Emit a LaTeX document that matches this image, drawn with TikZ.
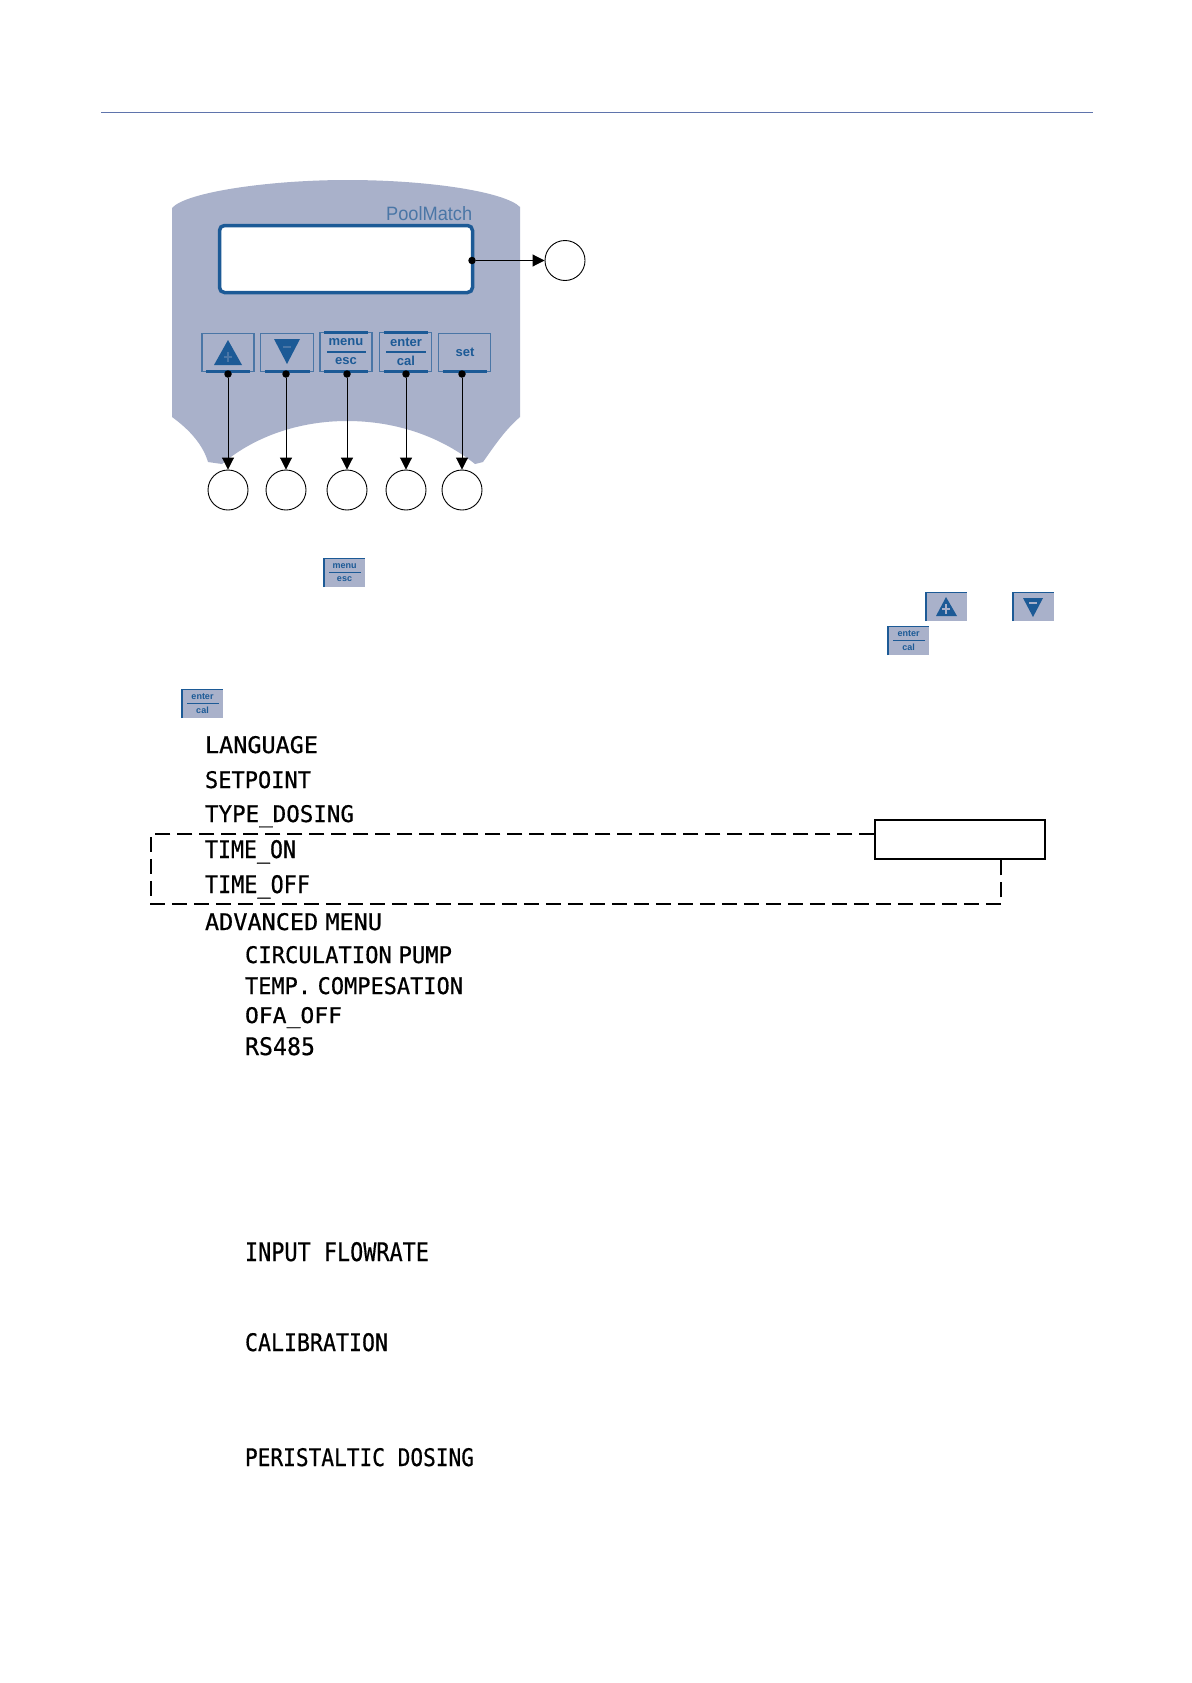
\documentclass[tikz,border=0pt]{standalone}
\usepackage{fontspec}
\setmainfont{Liberation Sans}
\newfontfamily\lcdfont{DejaVu Sans Mono}[FakeBold=0.6]
\usetikzlibrary{arrows.meta}
\definecolor{panelc}{HTML}{A9B1CA}
\definecolor{navyc}{HTML}{1C5A96}
\definecolor{edgec}{HTML}{4A76A6}
\definecolor{rulec}{HTML}{5F74AC}
\newcommand{\lcdtext}[3]{\resizebox{#1pt}{#2pt}{\lcdfont #3}}
\newcommand{\gap}{\kern-0.3em}
\tikzset{
 lcd/.style={inner sep=0pt,outer sep=0pt,anchor=base west,text=black},
 callout/.style={circle,draw=black,line width=0.9pt,minimum size=40pt,inner sep=0pt},
 keybox/.style={draw=edgec,fill=panelc,line width=1.4pt,inner sep=0pt,outer sep=0pt},
 pin/.style={-{Triangle[length=12pt,width=12pt]},line width=0.9pt,black},
 pindot/.style={circle,fill=black,minimum size=7.5pt,inner sep=0pt},
 iconbox/.style={fill=panelc,inner sep=0pt,outer sep=0pt},
 keylabel/.style={text=navyc,font=\bfseries\fontsize{13}{13}\selectfont,inner sep=0pt},
 iconlabel/.style={text=navyc,font=\bfseries\fontsize{9}{9}\selectfont,inner sep=0pt},
 notebox/.style={draw=black,line width=1.5pt,fill=white,minimum width=170pt,minimum height=39pt,inner sep=0pt},
 dashline/.style={draw=black,line width=1.5pt,dash pattern=on 15pt off 7pt},
 lipline/.style={draw=navyc,line width=2.6pt},
}
\begin{document}
\begin{tikzpicture}[x=1pt,y=-1pt]
\useasboundingbox (0,0) rectangle (1191,1683);
\fill[white] (0,0) rectangle (1191,1683);
\draw[rulec,line width=1.2pt] (101,112.5) -- (1093,112.5);
% panel
\fill[panelc] (172,208) .. controls (186,192) and (270,180) .. (347,180)
  .. controls (430,180) and (505,192) .. (520,207) -- (520,417)
  .. controls (505,430) and (495,445) .. (483,462) -- (475,464)
  .. controls (440,436) and (395,421) .. (347,421)
  .. controls (300,421) and (255,436) .. (222,464) -- (208,462)
  .. controls (203,445) and (190,430) .. (172,417) -- cycle;
\node[text=edgec,anchor=base west,inner sep=0pt] (brand) at (386,220) {\resizebox{86pt}{14pt}{PoolMatch}};
\node[draw=navyc,fill=white,line width=3.5pt,rounded corners=5pt,minimum width=253pt,minimum height=67pt,inner sep=0pt,outer sep=0pt] (display) at (346,259) {};
% keys
\node[keybox,minimum width=52pt,minimum height=38pt] (kup) at (228,352.5) {};
\node[keybox,minimum width=53pt,minimum height=38pt] (kdown) at (287,352.5) {};
\node[keybox,minimum width=52pt,minimum height=39pt] (kmenu) at (346,352) {};
\node[keybox,minimum width=52pt,minimum height=39pt] (kenter) at (405.5,352) {};
\node[keybox,minimum width=52pt,minimum height=38pt] (kset) at (464.5,352.5) {};
\foreach \k in {kup,kdown,kmenu,kenter,kset}{
  \draw[lipline] ([xshift=4pt]\k.south west) -- ([xshift=-4pt]\k.south east);
}
\foreach \k in {kmenu,kenter}{
  \draw[lipline] ([xshift=4pt]\k.north west) -- ([xshift=-4pt]\k.north east);
}
\fill[navyc] (228,340) -- (242,365) -- (214,365) -- cycle;
\fill[edgec] (227,352) rectangle (229,362);
\fill[edgec] (224,356) rectangle (232,358);
\fill[navyc] (274,339) -- (300,339) -- (287,364) -- cycle;
\fill[edgec] (283,346) rectangle (291,348);
\draw[navyc,line width=1.3pt] (327,352) -- (366,352);
\draw[navyc,line width=1.3pt] (386,352) -- (426,352);
\node[keylabel] (lmenu) at (346,342) {menu};
\node[keylabel] (lesc) at (346,361) {esc};
\node[keylabel] (lenter) at (406,342.5) {enter};
\node[keylabel] (lcal) at (406,361) {cal};
\node[keylabel] (lset) at (465,352) {set};
% callouts
\foreach \n/\x in {a/228,b/286,c/347,d/406,e/462}{
  \node[callout] (c\n) at (\x,490) {};
  \node[pindot] (d\n) at (\x,374) {};
  \draw[pin] (d\n) -- (c\n);
}
\node[callout] (cf) at (565,260.5) {};
\node[pindot] (df) at (472,260.5) {};
\draw[pin] (df) -- (cf);
% small icons
\foreach \nm/\x/\y/\t/\b in {im/324/558.5/menu/esc,ie/182/689.5/enter/cal,ig/888/626.5/enter/cal}{
  \node[iconbox,minimum width=41pt,minimum height=28.5pt,anchor=north west] (\nm) at (\x,\y) {};
  \draw[navyc,line width=1.2pt] (\nm.south west) -- (\nm.north west) -- (\nm.north east);
  \draw[navyc,line width=1pt] ([xshift=5pt,yshift=-14pt]\nm.north west) -- ([xshift=-4pt,yshift=-14pt]\nm.north east);
  \node[iconlabel] (\nm t) at ([yshift=-7.5pt]\nm.north) {\t};
  \node[iconlabel] (\nm b) at ([yshift=7.5pt]\nm.south) {\b};
}
\node[iconbox,minimum width=41pt,minimum height=28.5pt,anchor=north west] (iu) at (926,592.5) {};
\draw[navyc,line width=1.2pt] (iu.south west) -- (iu.north west) -- (iu.north east);
\fill[navyc] (946,597) -- (957,616) -- (936,616) -- cycle;
\fill[panelc] (945,604) rectangle (947,614);
\fill[panelc] (942,608) rectangle (950,610);
\node[iconbox,minimum width=41pt,minimum height=28.5pt,anchor=north west] (id) at (1013,592.5) {};
\draw[navyc,line width=1.2pt] (id.south west) -- (id.north west) -- (id.north east);
\fill[navyc] (1023,598) -- (1043,598) -- (1033,617) -- cycle;
\fill[panelc] (1029,602) rectangle (1037,604);
% lcd text
\node[lcd] (t1) at (205,753) {\lcdtext{113}{17}{LANGUAGE}};
\node[lcd] (t2) at (205,788) {\lcdtext{106}{17}{SETPOINT}};
\node[lcd] (t3) at (205,822) {\lcdtext{149}{17}{TYPE\_DOSING}};
\node[lcd] (t4) at (205,858) {\lcdtext{91}{18}{TIME\_ON}};
\node[lcd] (t5) at (205,893) {\lcdtext{105}{18}{TIME\_OFF}};
\node[lcd] (t6) at (205,930) {\lcdtext{177}{17}{ADVANCED \gap MENU}};
\node[lcd] (t7) at (245,963) {\lcdtext{207}{17}{CIRCULATION \gap PUMP}};
\node[lcd] (t8) at (245,994) {\lcdtext{218}{17}{TEMP. \gap COMPESATION}};
\node[lcd] (t9) at (245,1023) {\lcdtext{97}{16}{OFA\_OFF}};
\node[lcd] (t10) at (245,1055) {\lcdtext{70}{18}{RS485}};
\node[lcd] (t11) at (245,1261) {\lcdtext{184}{19}{INPUT FLOWRATE}};
\node[lcd] (t12) at (245,1351) {\lcdtext{143}{18}{CALIBRATION}};
\node[lcd] (t13) at (245,1466) {\lcdtext{229}{18}{PERISTALTIC DOSING}};
% dashed group
\node[notebox] (note) at (960,839.5) {};
\coordinate (gtl) at (151,834);
\coordinate (gbl) at (151,904);
\coordinate (gbr) at (1001,904);
\draw[dashline] (note.west |- gtl) -- (gtl) -- (gbl) -- (gbr) -- (gbr |- note.south);
\end{tikzpicture}
\end{document}
